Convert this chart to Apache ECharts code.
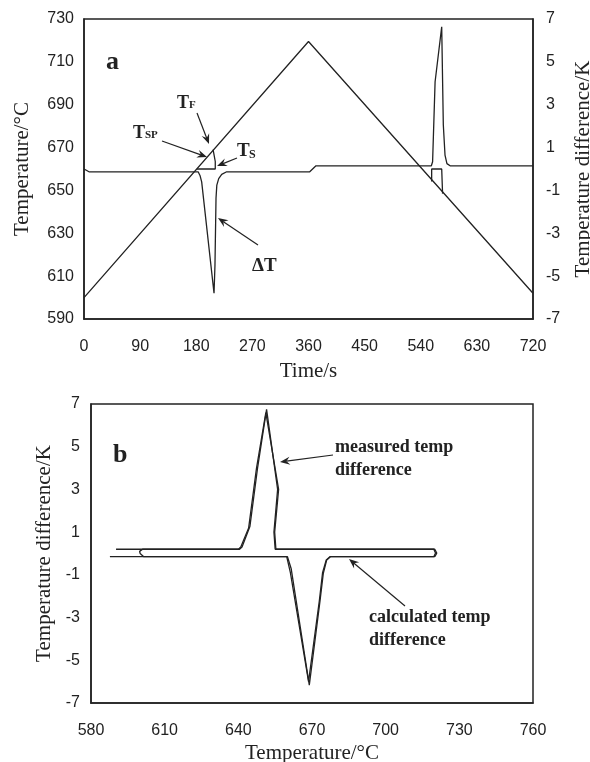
<!DOCTYPE html>
<html>
<head>
<meta charset="utf-8">
<script src="https://cdn.jsdelivr.net/npm/echarts@6/dist/echarts.min.js"></script>
<style>
  html, body { margin: 0; padding: 0; background: #fff; }
  #chart { width: 590px; height: 762px; }
</style>
</head>
<body>
<div id="chart"></div>
<script>
// panel a : furnace temperature vs time
const tempTime = [0, 360, 720];
const tempVal = [600, 719.5, 602];
// panel a : temperature difference vs time
const dtTime = [0, 3, 8, 183, 186, 188.7, 208.5, 210, 211.7, 213, 216, 220.8, 228.8, 362, 372, 557, 559, 563, 573.6, 576.2, 578.9, 582, 587, 720];
const dtVal = [0, -0.08, -0.13, -0.13, -0.3, -0.6, -5.8, -4.5, -1.35, -0.75, -0.45, -0.25, -0.13, -0.13, 0.15, 0.15, 0.34, 4.07, 6.64, 2.05, 0.65, 0.25, 0.15, 0.15];
// small helper traces near the onset points
const onsetTime = [181, 210.5, 210.5, 207];
const onsetVal = [0, 0, 0.35, 0.9];
const coolTime = [557.5, 557.5, 573.6, 575];
const coolVal = [-0.58, 0, 0, -1.15];

// panel b : measured temp difference vs temperature
const measT = [600, 601.5, 660, 661.5, 668.9, 673.3, 674.6, 676, 677.5, 720, 720.8, 720, 655, 654.5, 656, 651.5, 647.9, 644.7, 641.5, 640.5, 601, 599.8, 600];
const measV = [0, -0.15, -0.15, -0.7, -6.16, -2.18, -0.93, -0.3, -0.15, -0.15, 0.02, 0.2, 0.2, 1.0, 3.0, 6.75, 4.06, 1.26, 0.3, 0.2, 0.2, 0.1, 0];
// panel b : calculated temp difference vs temperature
const calcT = [587.7, 659.7, 661.2, 668.6, 673.0, 674.3, 675.8, 677.3, 719.6, 720.3, 719.6, 655.3, 654.8, 656.4, 651.2, 647.4, 644.2, 641.0, 640.0, 590.2];
const calcV = [-0.15, -0.15, -0.9, -6.0, -2.2, -0.9, -0.3, -0.15, -0.15, 0.02, 0.2, 0.2, 1.0, 3.0, 6.6, 4.0, 1.2, 0.3, 0.2, 0.2];

const ink = '#222';
const pair = (xs, ys) => xs.map((x, i) => [x, ys[i]]);

const labelStyle = { color: ink, fontFamily: 'Liberation Sans', fontSize: 16 };
const nameStyle = { color: ink, fontFamily: 'Liberation Serif', fontSize: 21 };

function axisBase(extra) {
  return Object.assign({
    type: 'value',
    axisLine: { show: true, onZero: false, lineStyle: { color: ink, width: 1.5 } },
    axisTick: { show: false },
    splitLine: { show: false },
    axisLabel: Object.assign({}, labelStyle),
    nameLocation: 'middle',
    nameTextStyle: nameStyle
  }, extra);
}

function line(data, xi, yi) {
  return {
    type: 'line',
    data: data,
    xAxisIndex: xi,
    yAxisIndex: yi,
    showSymbol: false,
    silent: true,
    lineStyle: { color: ink, width: 1.3 }
  };
}

// arrow with barbed head
function arrow(x1, y1, x2, y2) {
  const a = Math.atan2(y2 - y1, x2 - x1);
  const L = 10, W = 4;
  const bx = x2 - L * Math.cos(a), by = y2 - L * Math.sin(a);
  const ix = x2 - 0.65 * L * Math.cos(a), iy = y2 - 0.65 * L * Math.sin(a);
  return [
    { type: 'line', shape: { x1: x1, y1: y1, x2: ix, y2: iy }, style: { stroke: ink, lineWidth: 1.2 } },
    { type: 'polygon', shape: { points: [[x2, y2], [bx + W * Math.sin(a), by - W * Math.cos(a)], [ix, iy], [bx - W * Math.sin(a), by + W * Math.cos(a)]] }, style: { fill: ink } }
  ];
}

function txt(s, x, y, size) {
  return { type: 'text', style: { text: s, x: x, y: y, fill: ink, font: 'bold ' + size + 'px "Liberation Serif"', verticalAlign: 'bottom' } };
}

const chart = echarts.init(document.getElementById('chart'));
chart.setOption({
  animation: false,
  backgroundColor: '#fff',
  grid: [
    { left: 84, top: 19, width: 449, height: 300, show: true, borderColor: ink, borderWidth: 1.5, containLabel: false, outerBoundsMode: 'none' },
    { left: 91, top: 404, width: 442, height: 299, show: true, borderColor: ink, borderWidth: 1.5, containLabel: false, outerBoundsMode: 'none' }
  ],
  xAxis: [
    axisBase({ gridIndex: 0, min: 0, max: 720, interval: 90, name: 'Time/s', nameGap: 42, axisLabel: Object.assign({ margin: 20 }, labelStyle) }),
    axisBase({ gridIndex: 1, min: 580, max: 760, interval: 30, name: 'Temperature/°C', nameGap: 40, axisLabel: Object.assign({ margin: 20 }, labelStyle) })
  ],
  yAxis: [
    axisBase({ gridIndex: 0, min: 590, max: 730, interval: 20, name: 'Temperature/°C', nameGap: 51, nameRotate: 90, axisLabel: Object.assign({ margin: 10 }, labelStyle) }),
    axisBase({ gridIndex: 0, position: 'right', min: -7, max: 7, interval: 2, name: 'Temperature difference/K', nameGap: 40, nameRotate: 90, axisLabel: Object.assign({ margin: 13 }, labelStyle) }),
    axisBase({ gridIndex: 1, min: -7, max: 7, interval: 2, name: 'Temperature difference/K', nameGap: 34, nameRotate: 90, axisLabel: Object.assign({ margin: 11 }, labelStyle) })
  ],
  series: [
    line(pair(tempTime, tempVal), 0, 0),
    line(pair(dtTime, dtVal), 0, 1),
    line(pair(onsetTime, onsetVal), 0, 1),
    line(pair(coolTime, coolVal), 0, 1),
    line(pair(measT, measV), 1, 2),
    line(pair(calcT, calcV), 1, 2)
  ],
  graphic: [].concat(
    [
      txt('a', 106, 75, 26),
      txt('T', 177, 112, 18), txt('F', 189, 111, 11),
      txt('T', 133, 142, 18), txt('SP', 145, 141, 11),
      txt('T', 237, 161, 19), txt('S', 249, 161, 12),
      txt('ΔT', 252, 276, 19),
      txt('b', 113, 468, 26),
      txt('measured temp', 335, 456, 18), txt('difference', 335, 479, 18),
      txt('calculated temp', 369, 626, 18), txt('difference', 369, 649, 18)
    ],
    arrow(197, 113, 209, 144),
    arrow(162, 141, 207, 157),
    arrow(237, 158, 217, 166),
    arrow(258, 245, 218, 218),
    arrow(333, 455, 280, 462),
    arrow(405, 606, 349, 559)
  )
});
</script>
</body>
</html>
